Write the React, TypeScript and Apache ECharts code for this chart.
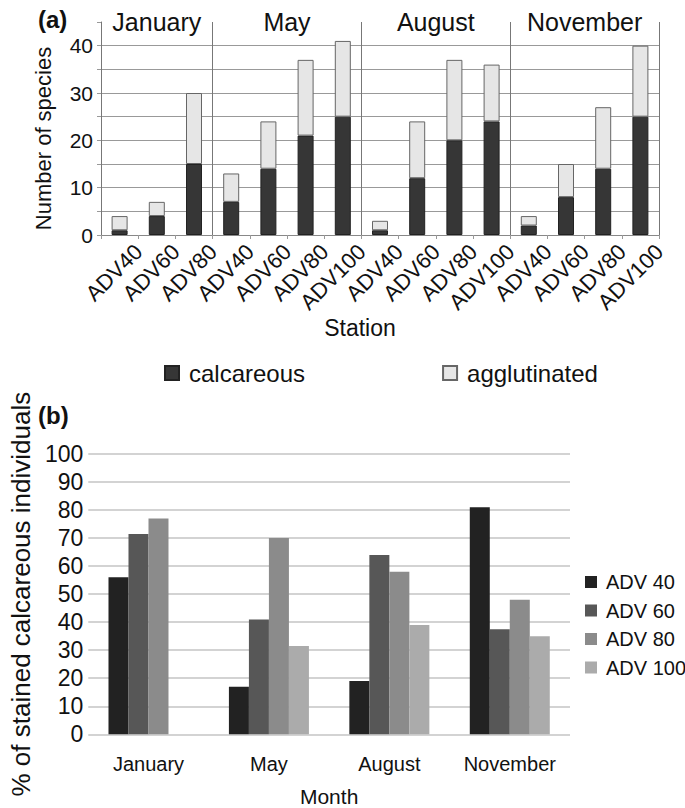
import React, { useEffect, useRef } from "react";
import * as echarts from "echarts";

// ---------- Panel (a) data ----------
const stations = [
  "ADV40", "ADV60", "ADV80",
  "ADV40", "ADV60", "ADV80", "ADV100",
  "ADV40", "ADV60", "ADV80", "ADV100",
  "ADV40", "ADV60", "ADV80", "ADV100",
];
const calcareous = [1, 4, 15, 7, 14, 21, 25, 1, 12, 20, 24, 2, 8, 14, 25];
const agglutinated = [3, 3, 15, 6, 10, 16, 16, 2, 12, 17, 12, 2, 7, 13, 15];
const monthTitles = ["January", "May", "August", "November"];
const monthGroupSizes = [3, 4, 4, 4];
const speciesMax = 45;
const speciesStep = 5;

// ---------- Panel (b) data ----------
const months = ["January", "May", "August", "November"];
const adv40 = [56, 17, 19, 81];
const adv60 = [71.5, 41, 64, 37.5];
const adv80 = [77, 70, 58, 48];
const adv100 = [null, 31.5, 39, 35];
const stainedMax = 100;
const stainedStep = 10;

const FONT = "'Liberation Sans', Arial, Helvetica, sans-serif";

export default function App() {
  const ref = useRef<HTMLDivElement>(null);

  useEffect(() => {
    if (!ref.current) return;
    const chart = echarts.init(ref.current, undefined, { renderer: "svg" });

    // group starts (divider indices) and centres (title positions)
    const starts: number[] = [];
    const centres: Record<number, string> = {};
    let acc = 0;
    monthGroupSizes.forEach((s, i) => {
      starts.push(acc);
      centres[Math.round((acc + s / 2) * 2)] = monthTitles[i];
      acc += s;
    });

    const gridA = { left: 101, right: 26, top: 22, bottom: 573 };
    const labelShift = 19;

    const option: any = {
      animation: false,
      backgroundColor: "#ffffff",
      textStyle: { fontFamily: FONT, color: "#111" },
      title: [
        { text: "(a)", left: 33, top: 2, textStyle: { fontFamily: FONT, fontSize: 24, fontWeight: "bold", color: "#111" } },
        { text: "(b)", left: 33, top: 398, textStyle: { fontFamily: FONT, fontSize: 24, fontWeight: "bold", color: "#111" } },
      ],
      legend: [
        {
          data: ["calcareous", "agglutinated"],
          left: 159,
          top: 356,
          itemWidth: 14,
          itemHeight: 14,
          itemGap: 137,
          icon: "rect",
          textStyle: { fontFamily: FONT, fontSize: 24, color: "#111", padding: [0, 0, 0, 5] },
        },
        {
          data: ["ADV 40", "ADV 60", "ADV 80", "ADV 100"],
          orient: "vertical",
          left: 580,
          top: 567,
          itemWidth: 12,
          itemHeight: 12,
          itemGap: 8.5,
          icon: "rect",
          textStyle: { fontFamily: FONT, fontSize: 20, lineHeight: 20, color: "#111", padding: [0, 0, 0, 4] },
        },
      ],
      grid: [
        gridA,
        { left: 80.5, right: 115, top: 454, bottom: 73.7 },
        { left: gridA.left + labelShift, right: gridA.right - labelShift, top: gridA.top, bottom: gridA.bottom },
      ],
      xAxis: [
        {
          // 0: bars of panel (a)
          type: "category",
          gridIndex: 0,
          data: stations,
          axisLine: { show: true, lineStyle: { color: "#888", width: 1 } },
          axisTick: { show: true, interval: 0, length: 4, lineStyle: { color: "#999" } },
          axisLabel: { show: false },
          splitLine: {
            show: true,
            interval: (index: number) => starts.indexOf(index) >= 0,
            lineStyle: { color: "#777", width: 1 },
          },
          name: "Station",
          nameLocation: "middle",
          nameGap: 93,
          nameTextStyle: { fontFamily: FONT, fontSize: 23, color: "#111", verticalAlign: "middle", padding: [0, 40, 0, 0] },
        },
        {
          // 1: month titles of panel (a)
          type: "value",
          gridIndex: 0,
          position: "top",
          min: 0,
          max: stations.length,
          interval: 0.5,
          axisLine: { show: false },
          axisTick: { show: false },
          splitLine: { show: false },
          axisLabel: {
            show: true,
            margin: 0,
            verticalAlign: "middle",
            fontFamily: FONT,
            fontSize: 25,
            color: "#111",
            formatter: (v: number) => centres[Math.round(v * 2)] || "",
          },
        },
        {
          // 2: rotated station labels of panel (a)
          type: "category",
          gridIndex: 2,
          data: stations,
          axisLine: { show: false },
          axisTick: { show: false },
          splitLine: { show: false },
          axisLabel: { interval: 0, rotate: 45, margin: 13, fontFamily: FONT, fontSize: 22, color: "#111" },
        },
        {
          // 3: months of panel (b)
          type: "category",
          gridIndex: 1,
          data: months,
          axisLine: { show: false },
          axisTick: { show: false },
          axisLabel: { margin: 20, fontFamily: FONT, fontSize: 20, color: "#111" },
          name: "Month",
          nameLocation: "middle",
          nameGap: 62,
          nameTextStyle: { fontFamily: FONT, fontSize: 21, color: "#111", verticalAlign: "middle" },
        },
      ],
      yAxis: [
        {
          type: "value",
          gridIndex: 0,
          min: 0,
          max: speciesMax,
          interval: speciesStep,
          axisLine: { show: true, lineStyle: { color: "#777", width: 1 } },
          axisTick: { show: true, length: 4, lineStyle: { color: "#999" } },
          axisLabel: {
            margin: 8,
            fontFamily: FONT,
            fontSize: 21,
            color: "#111",
            formatter: (v: number) => (v % 10 === 0 ? String(v) : ""),
          },
          splitLine: { show: true, showMaxLine: false, lineStyle: { color: "#999", width: 1 } },
          name: "Number of species",
          nameLocation: "middle",
          nameGap: 58,
          nameTextStyle: { fontFamily: FONT, fontSize: 22, color: "#111", verticalAlign: "middle", padding: [0, 20, 0, 0] },
        },
        { type: "value", gridIndex: 2, show: false },
        {
          type: "value",
          gridIndex: 1,
          min: 0,
          max: stainedMax,
          interval: stainedStep,
          axisLine: { show: false },
          axisTick: { show: false },
          axisLabel: { margin: 5, fontFamily: FONT, fontSize: 23, color: "#111" },
          splitLine: { show: true, lineStyle: { color: "#c4c4c4", width: 1.5 } },
          name: "% of stained calcareous individuals",
          nameLocation: "middle",
          nameGap: 65,
          nameTextStyle: { fontFamily: FONT, fontSize: 26, color: "#111", verticalAlign: "middle" },
        },
      ],
      series: [
        {
          name: "calcareous",
          type: "bar",
          stack: "species",
          xAxisIndex: 0,
          yAxisIndex: 0,
          barWidth: 16,
          data: calcareous,
          itemStyle: { color: "#363636", borderColor: "#222", borderWidth: 1 },
        },
        {
          name: "agglutinated",
          type: "bar",
          stack: "species",
          xAxisIndex: 0,
          yAxisIndex: 0,
          barWidth: 16,
          data: agglutinated,
          itemStyle: { color: "#e6e6e6", borderColor: "#666", borderWidth: 1 },
        },
        ...[
          { name: "ADV 40", data: adv40, color: "#222222" },
          { name: "ADV 60", data: adv60, color: "#575757" },
          { name: "ADV 80", data: adv80, color: "#8b8b8b" },
          { name: "ADV 100", data: adv100, color: "#ababab" },
        ].map((s) => ({
          name: s.name,
          type: "bar",
          xAxisIndex: 3,
          yAxisIndex: 2,
          barWidth: 20,
          barGap: "0%",
          data: s.data,
          itemStyle: { color: s.color },
        })),
      ],
    };

    chart.setOption(option);
    return () => chart.dispose();
  }, []);

  return (
    <div
      ref={ref}
      style={{ position: "absolute", left: 0, top: 0, width: 685, height: 808 }}
    />
  );
}
